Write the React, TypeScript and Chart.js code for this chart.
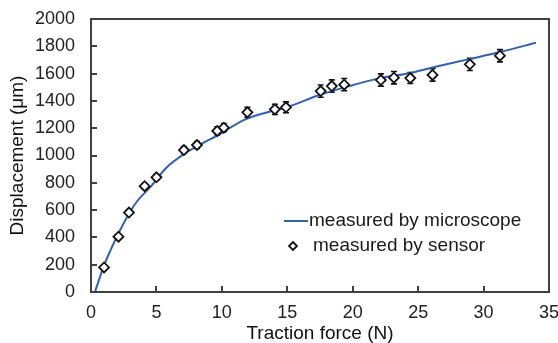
import React, { useEffect, useRef } from 'react';
import { Chart, registerables } from 'chart.js';

Chart.register(...registerables);

// Sensor measurements (diamonds with error bars)
const sensorForce = [1.0, 2.1, 2.9, 4.1, 5.0, 7.1, 8.1, 9.65, 10.15, 11.95, 14.05, 14.9, 17.55, 18.4, 19.35, 22.15, 23.15, 24.4, 26.1, 28.95, 31.25];
const sensorDisp = [180, 405, 582, 775, 840, 1040, 1077, 1180, 1204, 1316, 1338, 1353, 1472, 1509, 1519, 1553, 1570, 1567, 1590, 1668, 1731];
const sensorErr = [15, 15, 18, 20, 20, 25, 25, 30, 30, 38, 38, 40, 45, 45, 45, 45, 45, 40, 45, 45, 45];

// Microscope curve
const microForce = [0.3, 1.0, 2.0, 3.0, 3.6, 4.6, 5.7, 7.2, 9.7, 11.8, 14.0, 15.0, 17.5, 20.0, 22.0, 24.4, 26.1, 29.0, 31.25, 34.0];
const microDisp = [0, 195, 410, 590, 674, 775, 905, 1016, 1150, 1265, 1330, 1355, 1445, 1515, 1565, 1605, 1645, 1708, 1758, 1826];

const xMin = 0, xMax = 35, xStep = 5;
const yMin = 0, yMax = 2000, yStep = 200;

const xTitle = 'Traction force (N)';
const yTitle = 'Displacement (μm)';
const legendLabels = ['measured by microscope', 'measured by sensor'];

const LINE_COLOR = '#3560ac';
const FRAME_COLOR = '#404040';
const FONT = '"Liberation Sans", Arial, sans-serif';

const errorBarPlugin = {
  id: 'errorBars',
  beforeDatasetsDraw(chart: any) {
    const { ctx, scales: { x, y } } = chart;
    ctx.save();
    ctx.setLineDash([]);
    ctx.strokeStyle = '#111';
    ctx.lineWidth = 1.6;
    sensorForce.forEach((f, i) => {
      const px = x.getPixelForValue(f);
      const pTop = y.getPixelForValue(sensorDisp[i] + sensorErr[i]);
      const pBot = y.getPixelForValue(sensorDisp[i] - sensorErr[i]);
      ctx.beginPath();
      ctx.moveTo(px, pTop); ctx.lineTo(px, pBot);
      ctx.moveTo(px - 3, pTop); ctx.lineTo(px + 3, pTop);
      ctx.moveTo(px - 3, pBot); ctx.lineTo(px + 3, pBot);
      ctx.stroke();
    });
    ctx.restore();
  },
};

const framePlugin = {
  id: 'frameAndLegend',
  afterDraw(chart: any) {
    const ctx = chart.ctx;
    const { left, top, right, bottom } = chart.chartArea;
    const x = chart.scales.x, y = chart.scales.y;
    const L = Math.round(left), T = Math.round(top), R = Math.round(right), B = Math.round(bottom);
    const w = 2;
    ctx.save();
    ctx.fillStyle = FRAME_COLOR;
    // frame as filled bars
    ctx.fillRect(L - 1, T - 1, R - L + w, w);
    ctx.fillRect(L - 1, B - 1, R - L + w, w);
    ctx.fillRect(L - 1, T - 1, w, B - T + w);
    ctx.fillRect(R - 1, T - 1, w, B - T + w);
    // inward tick marks
    for (let v = xMin + xStep; v < xMax; v += xStep) {
      const px = Math.round(x.getPixelForValue(v));
      ctx.fillRect(px - 1, B - 6, w, 6);
    }
    for (let v = yMin + yStep; v < yMax; v += yStep) {
      const py = Math.round(y.getPixelForValue(v));
      ctx.fillRect(L, py - 1, 6, w);
    }

    // legend inside the plot (bottom-right)
    const lx = left + 193;
    const ly1 = top + 202;
    const ly2 = top + 227;
    ctx.strokeStyle = LINE_COLOR;
    ctx.lineWidth = 2;
    ctx.beginPath();
    ctx.moveTo(lx, ly1); ctx.lineTo(lx + 24, ly1);
    ctx.stroke();
    const dx = lx + 9, r = 4;
    ctx.strokeStyle = '#111';
    ctx.fillStyle = '#fff';
    ctx.lineWidth = 1.8;
    ctx.beginPath();
    ctx.moveTo(dx, ly2 - r); ctx.lineTo(dx + r, ly2); ctx.lineTo(dx, ly2 + r); ctx.lineTo(dx - r, ly2); ctx.closePath();
    ctx.fill(); ctx.stroke();
    ctx.fillStyle = '#1a1a1a';
    ctx.font = `19px ${FONT}`;
    ctx.textBaseline = 'middle';
    ctx.textAlign = 'left';
    ctx.fillText(legendLabels[0], lx + 25, ly1);
    ctx.fillText(legendLabels[1], lx + 29, ly2);
    ctx.restore();
  },
};

const tickFont = { family: FONT, size: 18 };
const titleFont = { family: FONT, size: 19, lineHeight: 1 };

export default function App() {
  const ref = useRef<HTMLCanvasElement>(null);
  useEffect(() => {
    document.body.style.margin = '0';
    const chart = new Chart(ref.current!, {
      type: 'scatter',
      data: {
        datasets: [
          {
            label: legendLabels[1],
            data: sensorForce.map((f, i) => ({ x: f, y: sensorDisp[i] })),
            pointStyle: 'rectRot',
            pointRadius: 5,
            pointBackgroundColor: '#fff',
            pointBorderColor: '#111',
            pointBorderWidth: 1.8,
            showLine: false,
            order: 0,
          },
          {
            label: legendLabels[0],
            data: microForce.map((f, i) => ({ x: f, y: microDisp[i] })),
            showLine: true,
            borderColor: LINE_COLOR,
            borderWidth: 2,
            pointRadius: 0,
            cubicInterpolationMode: 'monotone',
            order: 1,
          } as any,
        ],
      },
      options: {
        responsive: false,
        animation: false,
        layout: { padding: { top: 19, right: 9, left: 0, bottom: 0 } },
        plugins: { legend: { display: false }, tooltip: { enabled: false } },
        scales: {
          x: {
            type: 'linear',
            position: 'bottom',
            min: xMin, max: xMax,
            grid: { display: false, drawTicks: false },
            border: { display: false },
            ticks: { stepSize: xStep, padding: 10, color: '#222', font: tickFont, callback: (v: any) => String(v) },
            title: { display: true, text: xTitle, color: '#111', padding: { top: 0, bottom: 0 }, font: titleFont },
            afterFit: (s: any) => { s.height = 51; s.paddingRight = 0; s.paddingLeft = 0; },
          },
          y: {
            type: 'linear',
            position: 'left',
            min: yMin, max: yMax,
            grid: { display: false, drawTicks: false },
            border: { display: false },
            ticks: { stepSize: yStep, padding: 16, color: '#222', font: tickFont, callback: (v: any) => String(v) },
            title: { display: true, text: yTitle, color: '#111', padding: { top: 8, bottom: 0 }, font: titleFont },
            afterFit: (s: any) => { s.width = 91; s.paddingTop = 0; s.paddingBottom = 0; },
          },
        },
      },
      plugins: [errorBarPlugin, framePlugin],
    });
    return () => chart.destroy();
  }, []);
  return (
    <div style={{ position: 'absolute', left: 0, top: 0, width: 558, height: 343, background: '#fff' }}>
      <canvas ref={ref} width={558} height={343} />
    </div>
  );
}
